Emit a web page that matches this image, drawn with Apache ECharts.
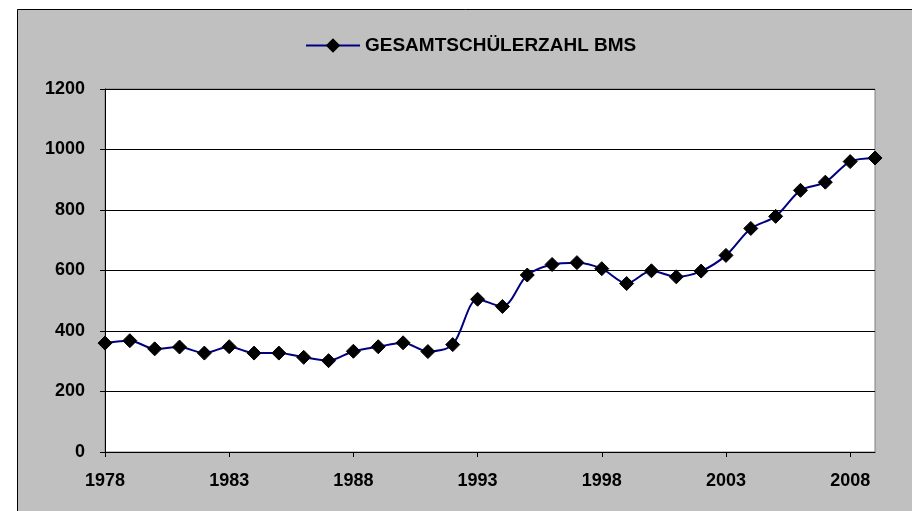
<!DOCTYPE html>
<html>
<head>
<meta charset="utf-8">
<script src="https://cdn.jsdelivr.net/npm/echarts@6/dist/echarts.min.js"></script>
<style>
    html, body { margin: 0; padding: 0; background: #fff; }
    #chart { width: 912px; height: 511px; }
</style>
</head>
<body>
<div id="chart"></div>
<script>
    // Jahre und Schülerzahlen
    const years = ['1978', '1979', '1980', '1981', '1982', '1983', '1984', '1985',
        '1986', '1987', '1988', '1989', '1990', '1991', '1992', '1993', '1994',
        '1995', '1996', '1997', '1998', '1999', '2000', '2001', '2002', '2003',
        '2004', '2005', '2006', '2007', '2008', '2009'];
    const schueler = [360, 368, 341, 347, 327, 348, 327, 327, 313, 302, 333, 348,
        361, 332, 355, 505, 481, 585, 620, 626, 606, 557, 599, 579, 598, 650,
        739, 779, 865, 892, 960, 972];
    const seriesName = 'GESAMTSCHÜLERZAHL BMS';

    const labelFont = {
        color: '#000',
        fontFamily: 'Arial, "Liberation Sans", sans-serif',
        fontWeight: 'bold',
        fontSize: 18
    };

    const chart = echarts.init(document.getElementById('chart'));
    chart.setOption({
        backgroundColor: '#fff',
        animation: false,
        graphic: {
            z: -10,
            elements: [{
                type: 'rect',
                z: -10,
                shape: { x: 17.5, y: 9.5, width: 1000, height: 600 },
                style: { fill: '#C0C0C0', stroke: '#000', lineWidth: 1 }
            }]
        },
        legend: {
            data: [seriesName],
            left: 300,
            top: 31,
            itemWidth: 54,
            itemHeight: 18,
            itemGap: 5,
            textStyle: Object.assign({}, labelFont, { fontSize: 19 })
        },
        grid: {
            left: 105,
            right: 37,
            top: 89,
            bottom: 59,
            show: true,
            backgroundColor: '#fff',
            borderColor: '#808080',
            borderWidth: 1
        },
        xAxis: {
            type: 'category',
            data: years,
            boundaryGap: false,
            axisLine: { lineStyle: { color: '#000', width: 1 } },
            axisTick: { interval: 4, length: 5, lineStyle: { color: '#000' } },
            axisLabel: Object.assign({ interval: 4, margin: 20 }, labelFont),
            splitLine: { show: false }
        },
        yAxis: {
            type: 'value',
            min: 0,
            max: 1200,
            interval: 200,
            axisLine: { show: true, lineStyle: { color: '#000', width: 1 } },
            axisTick: { show: true, length: 5, lineStyle: { color: '#000' } },
            axisLabel: Object.assign({ margin: 20, formatter: v => String(v) }, labelFont),
            splitLine: { lineStyle: { color: '#000', width: 1 } }
        },
        series: [{
            name: seriesName,
            type: 'line',
            data: schueler,
            smooth: 0.3,
            symbol: 'diamond',
            symbolSize: 14,
            showAllSymbol: true,
            lineStyle: { color: '#000080', width: 2 },
            itemStyle: { color: '#000', borderColor: '#000' }
        }]
    });
</script>
</body>
</html>
